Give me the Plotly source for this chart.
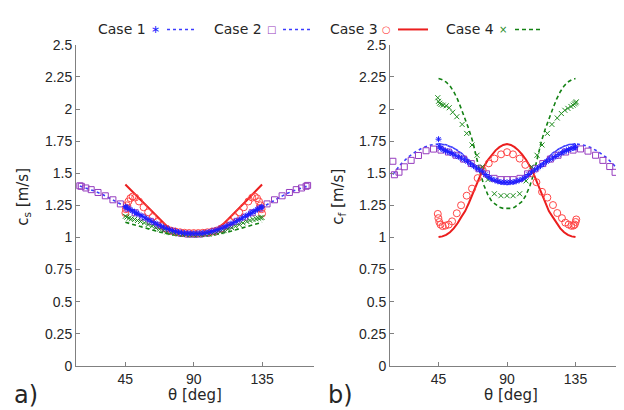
import plotly.graph_objects as go

W, H = 624, 410

# ---------------- data ----------------
theta_line2 = [15, 20, 25, 30, 35, 40, 45, 50, 55, 60, 65, 70, 75, 80, 85, 90,
               95, 100, 105, 110, 115, 120, 125, 130, 135, 140, 145, 150, 155, 160, 165]
a_line2 = [1.400, 1.382, 1.360, 1.334, 1.305, 1.272, 1.238, 1.203, 1.168, 1.134, 1.103, 1.075, 1.052, 1.034, 1.023, 1.020,
           1.023, 1.034, 1.052, 1.075, 1.103, 1.134, 1.168, 1.203, 1.238, 1.272, 1.305, 1.334, 1.360, 1.382, 1.400]
b_line2 = [1.490, 1.568, 1.625, 1.668, 1.700, 1.720, 1.728, 1.720, 1.695, 1.655, 1.600, 1.540, 1.485, 1.445, 1.420, 1.412,
           1.420, 1.445, 1.485, 1.540, 1.600, 1.655, 1.695, 1.720, 1.728, 1.720, 1.700, 1.668, 1.625, 1.568, 1.490]

theta_line1 = [45, 50, 55, 60, 65, 70, 75, 80, 85, 90, 95, 100, 105, 110, 115, 120, 125, 130, 135]
a_line1 = [1.242, 1.207, 1.172, 1.138, 1.107, 1.079, 1.056, 1.038, 1.027, 1.024,
           1.027, 1.038, 1.056, 1.079, 1.107, 1.138, 1.172, 1.207, 1.242]
b_line1 = [1.730, 1.722, 1.697, 1.657, 1.602, 1.542, 1.487, 1.447, 1.422, 1.414,
           1.422, 1.447, 1.487, 1.542, 1.602, 1.657, 1.697, 1.722, 1.730]

theta_star = [45, 45.5, 46.5, 48, 49.5, 51, 52.5, 54, 56, 58, 60, 62, 64, 66, 68, 70, 72, 74, 76, 78, 80, 82, 84, 86, 88,
              90,
              92, 94, 96, 98, 100, 102, 104, 106, 108, 110, 112, 114, 116, 118, 120, 122, 124, 126, 127.5, 129, 130.5,
              132, 133.5, 134.5, 135]
a_star = [1.240, 1.235, 1.228, 1.218, 1.208, 1.198, 1.188, 1.178, 1.165, 1.152, 1.139, 1.126, 1.114, 1.102, 1.090,
          1.080, 1.070, 1.061, 1.053, 1.047, 1.041, 1.037, 1.033, 1.031, 1.030,
          1.030,
          1.030, 1.031, 1.033, 1.037, 1.041, 1.047, 1.053, 1.061, 1.070, 1.080, 1.090, 1.102, 1.114, 1.126, 1.139,
          1.152, 1.165, 1.178, 1.188, 1.198, 1.208, 1.218, 1.228, 1.235, 1.238]
b_star = [1.765, 1.710, 1.695, 1.683, 1.675, 1.668, 1.660, 1.652, 1.640, 1.628, 1.618, 1.605, 1.590, 1.572, 1.555,
          1.540, 1.525, 1.510, 1.490, 1.470, 1.455, 1.445, 1.437, 1.432, 1.430,
          1.430,
          1.430, 1.432, 1.437, 1.445, 1.455, 1.470, 1.490, 1.510, 1.525, 1.540, 1.555, 1.572, 1.590, 1.605, 1.618,
          1.630, 1.645, 1.658, 1.668, 1.676, 1.684, 1.690, 1.696, 1.700, 1.705]

theta_sq = [15, 16, 19, 22.5, 27, 31.8, 36.8, 41.7, 46.6, 51.5, 56.5, 61.5, 66.5, 71.5, 76.5, 81.5, 86, 90,
            94, 98.5, 103.5, 108.5, 113.5, 118.5, 123.5, 128.5, 133.4, 138.3, 143.2, 148.2, 153, 157.5, 161, 164, 165]
a_sq = [1.402, 1.398, 1.385, 1.372, 1.350, 1.324, 1.293, 1.261, 1.227, 1.192, 1.158, 1.125, 1.095, 1.068, 1.048,
        1.033, 1.026, 1.025, 1.026, 1.033, 1.048, 1.068, 1.095, 1.125, 1.158, 1.192, 1.227, 1.261, 1.293, 1.324,
        1.350, 1.372, 1.385, 1.398, 1.405]
b_sq = [1.593, 1.488, 1.508, 1.550, 1.600, 1.638, 1.675, 1.688, 1.680, 1.665, 1.640, 1.610, 1.575, 1.535, 1.495,
        1.460, 1.450, 1.450, 1.450, 1.460, 1.495, 1.535, 1.575, 1.610, 1.640, 1.665, 1.680, 1.689, 1.672, 1.640,
        1.600, 1.552, 1.507, 1.490, 1.488]

theta_l3 = [45, 47.5, 50, 52.5, 55, 57.5, 60, 62.5, 65, 67.5, 70, 72.5, 75, 77.5, 80, 82.5, 85, 87.5, 90,
            92.5, 95, 97.5, 100, 102.5, 105, 107.5, 110, 112.5, 115, 117.5, 120, 122.5, 125, 127.5, 130, 132.5, 135]
a_l3 = [1.412, 1.382, 1.352, 1.321, 1.290, 1.259, 1.228, 1.198, 1.168, 1.139, 1.110, 1.085, 1.065, 1.050, 1.042,
        1.036, 1.033, 1.031, 1.030,
        1.031, 1.033, 1.036, 1.042, 1.050, 1.065, 1.085, 1.110, 1.139, 1.168, 1.198, 1.228, 1.259, 1.290, 1.321,
        1.352, 1.382, 1.412]
b_l3 = [1.003, 1.008, 1.020, 1.040, 1.070, 1.110, 1.160, 1.205, 1.270, 1.345, 1.420, 1.495, 1.555, 1.605, 1.645,
        1.678, 1.703, 1.720, 1.727,
        1.720, 1.703, 1.678, 1.645, 1.605, 1.555, 1.495, 1.420, 1.345, 1.270, 1.205, 1.160, 1.110, 1.070, 1.040,
        1.020, 1.008, 1.003]

theta_l4 = theta_l3
a_l4 = [1.118, 1.109, 1.100, 1.091, 1.083, 1.074, 1.066, 1.058, 1.050, 1.042, 1.035, 1.028, 1.022, 1.017, 1.013,
        1.010, 1.007, 1.006, 1.005,
        1.006, 1.007, 1.010, 1.013, 1.017, 1.022, 1.028, 1.035, 1.042, 1.050, 1.058, 1.066, 1.074, 1.083, 1.091,
        1.100, 1.109, 1.118]
b_l4 = [2.237, 2.228, 2.210, 2.180, 2.135, 2.075, 2.000, 1.925, 1.840, 1.745, 1.615, 1.495, 1.400, 1.330, 1.280,
        1.255, 1.235, 1.226, 1.224,
        1.226, 1.235, 1.255, 1.280, 1.330, 1.400, 1.495, 1.615, 1.745, 1.840, 1.925, 2.000, 2.075, 2.135, 2.180,
        2.210, 2.228, 2.237]

theta_circ_a = [45, 45.3, 46, 47, 48.3, 49.8, 51.5, 54, 57, 60, 63, 66, 69, 72, 75, 78, 81, 84, 87, 90,
                93, 96, 99, 102, 105, 108, 111, 114, 117, 120, 123, 126, 128.5, 130.2, 131.7, 133, 134, 134.7, 135]
a_circ = [1.190, 1.220, 1.250, 1.280, 1.305, 1.318, 1.310, 1.280, 1.235, 1.195, 1.158, 1.120, 1.090, 1.068, 1.053,
          1.045, 1.040, 1.036, 1.034, 1.034,
          1.034, 1.036, 1.040, 1.045, 1.053, 1.068, 1.090, 1.120, 1.158, 1.195, 1.235, 1.280, 1.310, 1.318, 1.305,
          1.280, 1.250, 1.220, 1.185]

theta_circ_b = [44.5, 44.9, 45.5, 46.3, 47.7, 49.5, 51.7, 53.9, 57, 59.8, 63.5, 67, 70.7, 74, 78, 81.7, 86.1, 90,
                93.9, 98.3, 102, 106, 109.3, 113, 116.5, 120.2, 123, 126.1, 128.3, 130.5, 132.3, 133.7, 134.5,
                135.1, 135.5]
b_circ = [1.183, 1.150, 1.120, 1.100, 1.088, 1.092, 1.100, 1.125, 1.188, 1.250, 1.325, 1.380, 1.462, 1.525, 1.577,
          1.614, 1.647, 1.664,
          1.647, 1.614, 1.565, 1.500, 1.430, 1.355, 1.310, 1.252, 1.190, 1.150, 1.115, 1.100, 1.090, 1.092, 1.100,
          1.120, 1.140]

theta_x_a = [45, 46, 47.5, 49, 51, 53, 55, 57.5, 60, 62.5, 65, 67.5, 70, 72.5, 75, 77.5, 80, 82.5, 85, 87.5, 90,
             92.5, 95, 97.5, 100, 102.5, 105, 107.5, 110, 112.5, 115, 117.5, 120, 122.5, 125, 127, 129, 131, 132.5,
             134, 135]
a_x = [1.165, 1.158, 1.150, 1.145, 1.140, 1.132, 1.124, 1.113, 1.100, 1.087, 1.075, 1.064, 1.053, 1.044, 1.037,
       1.031, 1.027, 1.024, 1.022, 1.021, 1.021,
       1.021, 1.022, 1.024, 1.027, 1.031, 1.037, 1.044, 1.053, 1.064, 1.075, 1.087, 1.100, 1.113, 1.124, 1.132,
       1.140, 1.145, 1.150, 1.153, 1.155]

theta_x_b = [44.5, 45, 45.7, 46.6, 48, 50, 52, 54.3, 57, 60.5, 63.5, 67, 70.3, 73.8, 77.5, 81.7, 86, 90,
             94, 98.3, 102.5, 106.2, 109.7, 113, 116.5, 119.5, 123, 125.7, 128, 130, 132, 133.4, 134.3, 135, 135.5]
b_x = [2.088, 2.060, 2.045, 2.035, 2.030, 2.025, 2.010, 1.975, 1.940, 1.880, 1.810, 1.720, 1.640, 1.550, 1.450,
       1.340, 1.325, 1.325,
       1.325, 1.340, 1.440, 1.550, 1.640, 1.720, 1.810, 1.880, 1.930, 1.965, 1.990, 2.005, 2.020, 2.030, 2.040,
       2.048, 2.056]

y_ticks = [0, 0.25, 0.5, 0.75, 1, 1.25, 1.5, 1.75, 2, 2.25, 2.5]
y_tick_text = ["0", "0.25", "0.5", "0.75", "1", "1.25", "1.5", "1.75", "2", "2.25", "2.5"]
x_ticks = [45, 90, 135]
x_tick_text = ["45", "90", "135"]
legend_names = ["Case 1", "Case 2", "Case 3", "Case 4"]

# ---------------- styles ----------------
BLUE_M = "rgb(30,30,255)"
BLUE_L = "rgb(60,60,255)"
PURPLE = "rgb(150,60,190)"
RED_M = "rgb(255,70,70)"
RED_L = "rgb(235,30,30)"
GREEN_M = "rgb(30,140,30)"
GREEN_L = "rgb(20,130,20)"
AXC = "#808080"
TXT = "#262626"
GREEN_DASH = "4px,3px"


def px(x):
    return x / W


def py(y):
    return 1 - y / H


fig = go.Figure()


def add_panel(xa, ya, l2, l1, l4, l3, sq, st, ci, tci, xs, txs):
    kw = dict(xaxis=xa, yaxis=ya, showlegend=False, hoverinfo="skip")
    fig.add_trace(go.Scatter(x=theta_line2, y=l2, mode="lines",
                             line=dict(color=BLUE_L, width=1.6, dash="dot"), **kw))
    fig.add_trace(go.Scatter(x=theta_line1, y=l1, mode="lines",
                             line=dict(color=BLUE_L, width=1.6, dash="dot"), **kw))
    fig.add_trace(go.Scatter(x=theta_l4, y=l4, mode="lines",
                             line=dict(color=GREEN_L, width=1.6, dash=GREEN_DASH), **kw))
    fig.add_trace(go.Scatter(x=theta_l3, y=l3, mode="lines",
                             line=dict(color=RED_L, width=2), **kw))
    fig.add_trace(go.Scatter(x=theta_sq, y=sq, mode="markers",
                             marker=dict(symbol="square-open", size=6, color=PURPLE, line=dict(width=1)), **kw))
    fig.add_trace(go.Scatter(x=tci, y=ci, mode="markers",
                             marker=dict(symbol="circle-open", size=7, color=RED_M, line=dict(width=1)), **kw))
    fig.add_trace(go.Scatter(x=txs, y=xs, mode="markers",
                             marker=dict(symbol="x-thin-open", size=5, color=GREEN_M, line=dict(width=1)), **kw))
    fig.add_trace(go.Scatter(x=theta_star, y=st, mode="markers",
                             marker=dict(symbol="asterisk-open", size=5, color=BLUE_M, line=dict(width=1)), **kw))


add_panel("x", "y", a_line2, a_line1, a_l4, a_l3, a_sq, a_star, a_circ, theta_circ_a, a_x, theta_x_a)
add_panel("x2", "y2", b_line2, b_line1, b_l4, b_l3, b_sq, b_star, b_circ, theta_circ_b, b_x, theta_x_b)

xcommon = dict(showline=True, linecolor=AXC, linewidth=1, ticks="inside", ticklen=4, tickcolor=AXC,
               tickvals=x_ticks, ticktext=x_tick_text, showgrid=False, zeroline=False,
               tickfont=dict(family="Liberation Sans, Arial", size=14, color=TXT))
ycommon = dict(showline=True, linecolor=AXC, linewidth=1, ticks="inside", ticklen=4, tickcolor=AXC,
               tickvals=y_ticks, ticktext=y_tick_text, showgrid=False, zeroline=False, range=[0, 2.5],
               tickfont=dict(family="Liberation Sans, Arial", size=14, color=TXT))

fig.update_layout(
    width=W, height=H, margin=dict(l=0, r=0, t=0, b=0),
    paper_bgcolor="white", plot_bgcolor="white",
    xaxis=dict(domain=[px(68), px(306)], range=[12.5, 169.2], anchor="y", **xcommon),
    yaxis=dict(domain=[py(364), py(30)], anchor="x", **ycommon),
    xaxis2=dict(domain=[px(382), px(620)], range=[13.1, 169.5], anchor="y2", **xcommon),
    yaxis2=dict(domain=[py(364), py(30)], anchor="x2", **ycommon),
)

ann = []
LAB = dict(family="DejaVu Sans, Verdana", color=TXT)
for xc in (187, 503):
    ann.append(dict(x=px(xc), y=py(394), xref="paper", yref="paper", text="θ [deg]", showarrow=False,
                    font=dict(size=15, **LAB), xanchor="center", yanchor="middle"))
ann.append(dict(x=px(16), y=py(188), xref="paper", yref="paper", text="c<sub>s</sub> [m/s]", showarrow=False,
                textangle=-90, font=dict(size=15, **LAB), xanchor="center", yanchor="middle"))
ann.append(dict(x=px(331), y=py(188), xref="paper", yref="paper", text="c<sub>f</sub> [m/s]", showarrow=False,
                textangle=-90, font=dict(size=15, **LAB), xanchor="center", yanchor="middle"))
ann.append(dict(x=px(18), y=py(394), xref="paper", yref="paper", text="a)", showarrow=False,
                font=dict(size=24, **LAB), xanchor="center", yanchor="middle"))
ann.append(dict(x=px(332), y=py(394), xref="paper", yref="paper", text="b)", showarrow=False,
                font=dict(size=24, **LAB), xanchor="center", yanchor="middle"))

# custom legend: text, marker glyph, line sample
leg_text_x = [88, 204, 320, 436]
leg_mark_x = [147, 263, 378, 495]
leg_line_x = [(159, 187), (275, 303), (390, 420), (507, 535)]
leg_glyph = ["∗", "□", "○", "×"]
leg_gcol = [BLUE_M, PURPLE, RED_M, GREEN_M]
leg_gsize = [11, 10, 10, 10]
leg_lcol = [BLUE_L, BLUE_L, RED_L, GREEN_L]
leg_ldash = ["dot", "dot", "solid", GREEN_DASH]
leg_lw = [1.6, 1.6, 2, 1.6]
LY = 14
shapes = []
for i, name in enumerate(legend_names):
    ann.append(dict(x=px(leg_text_x[i]), y=py(LY), xref="paper", yref="paper", text=name, showarrow=False,
                    font=dict(size=14, **LAB), xanchor="left", yanchor="middle"))
    ann.append(dict(x=px(leg_mark_x[i]), y=py(LY), xref="paper", yref="paper", text=leg_glyph[i], showarrow=False,
                    font=dict(family="DejaVu Sans", size=leg_gsize[i], color=leg_gcol[i]),
                    xanchor="center", yanchor="middle"))
    x0, x1 = leg_line_x[i]
    shapes.append(dict(type="line", xref="paper", yref="paper", x0=px(x0), x1=px(x1), y0=py(LY), y1=py(LY),
                       line=dict(color=leg_lcol[i], width=leg_lw[i], dash=leg_ldash[i])))

fig.update_layout(annotations=ann, shapes=shapes)
fig.write_html("out.html")
